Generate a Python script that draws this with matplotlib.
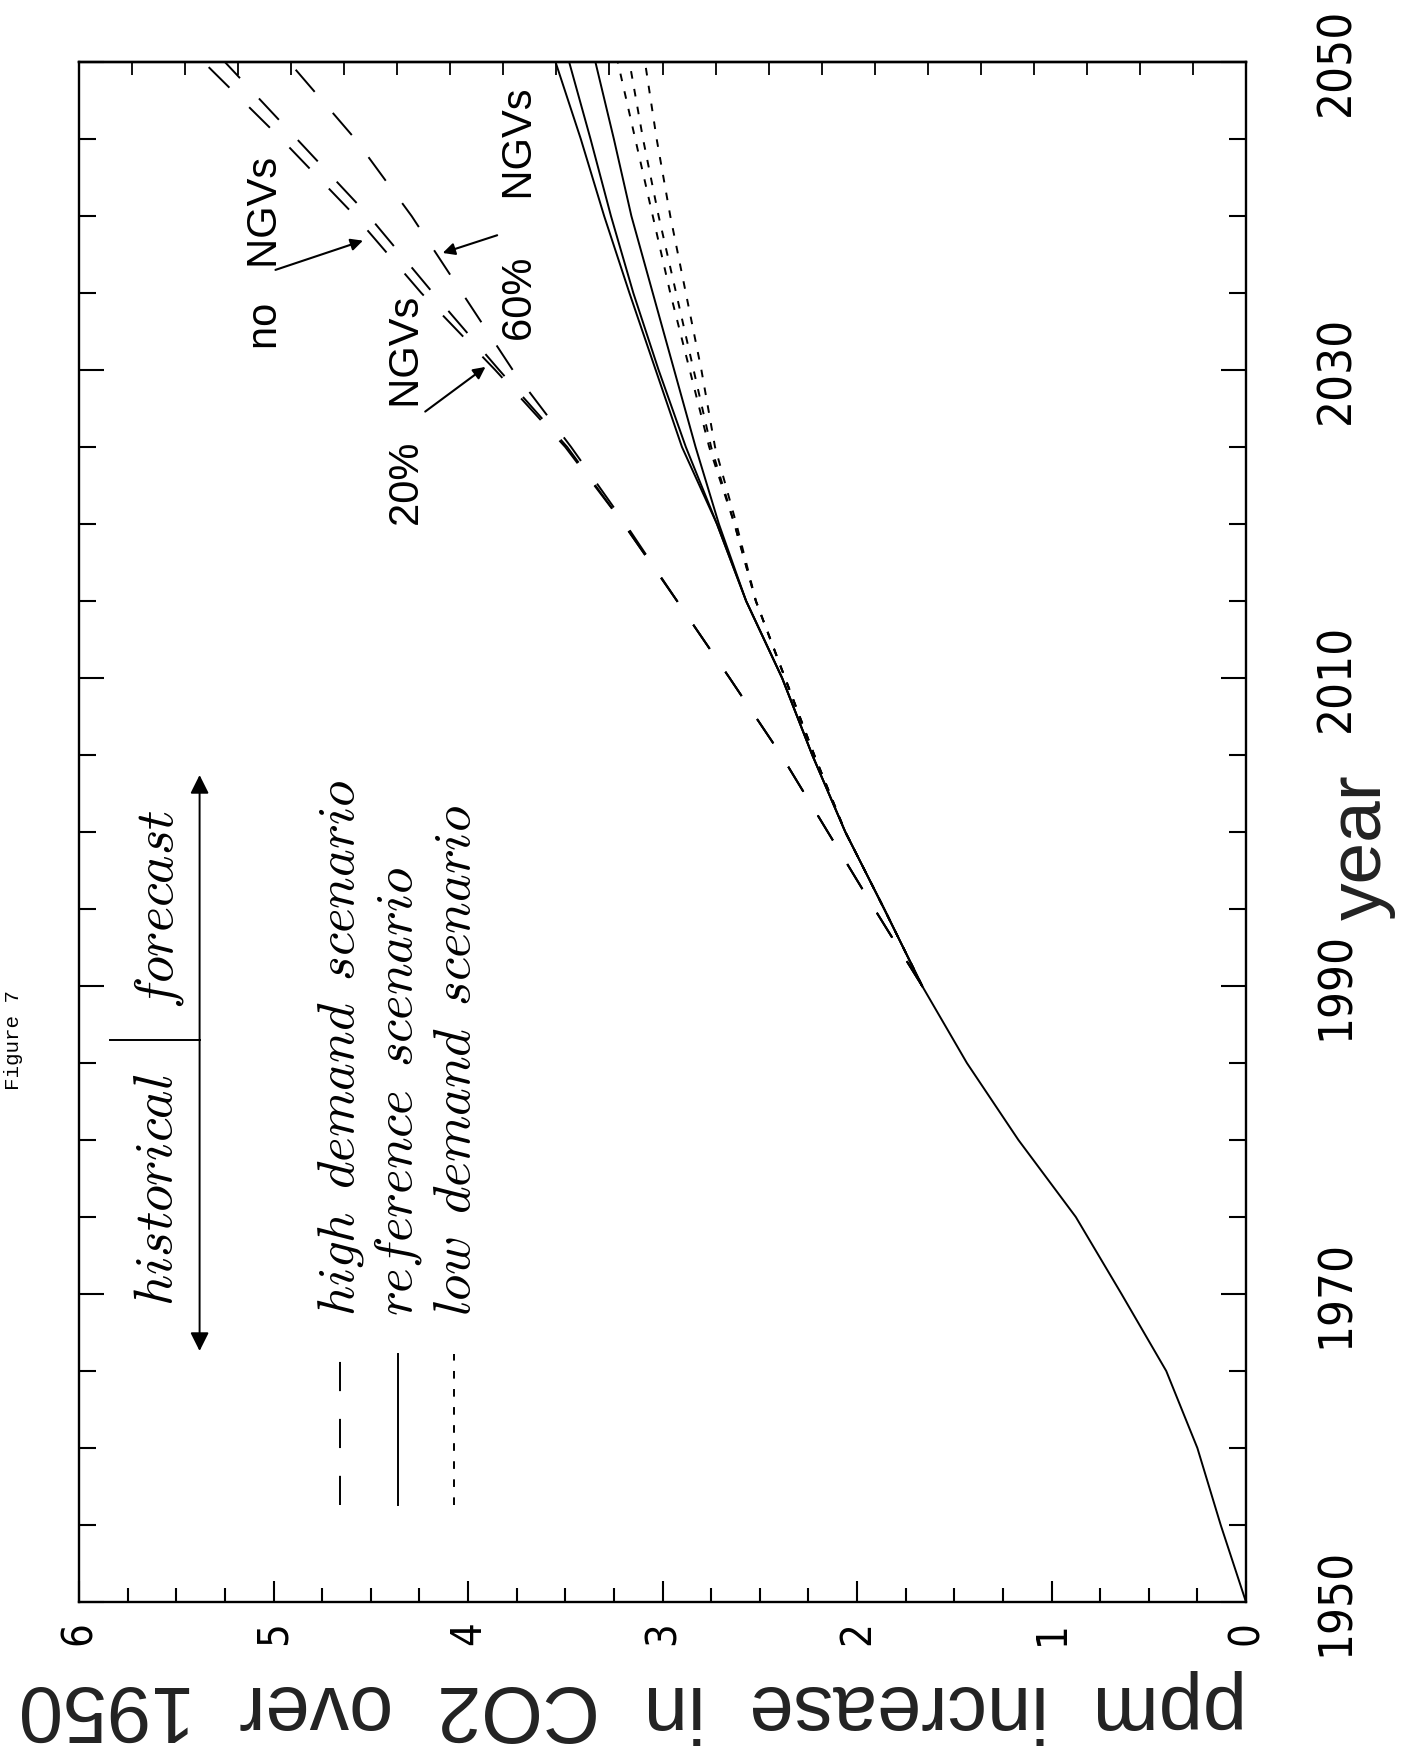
import numpy as np
import matplotlib
matplotlib.use('Agg')
import matplotlib.pyplot as plt
from matplotlib import font_manager as fm
from matplotlib.font_manager import FontProperties
from matplotlib.ticker import MultipleLocator, FixedLocator, FuncFormatter, NullFormatter

W, H, DPI = 1401, 1747, 100
plt.rcParams['lines.scale_dashes'] = False
plt.rcParams['mathtext.fontset'] = 'cm'

names = {f.name for f in fm.fontManager.ttflist}
SANS = 'Liberation Sans' if 'Liberation Sans' in names else 'DejaVu Sans'
MONO = 'Liberation Mono' if 'Liberation Mono' in names else 'DejaVu Sans Mono'


def find_condensed():
    best = None
    for f in fm.fontManager.ttflist:
        nm = f.name
        st = str(f.stretch)
        cond = ('Narrow' in nm or 'Condensed' in nm or
                st in ('condensed', 'semi-condensed', 'extra-condensed'))
        if not cond or f.style != 'normal':
            continue
        try:
            wt = int(f.weight)
        except Exception:
            wt = 400 if f.weight in ('normal', 'regular', 'book') else 700
        if wt != 400:
            continue
        if 'Mono' in nm or 'CJK' in nm or 'Serif' in nm:
            continue
        score = 0 if 'Sans' in nm else 1
        if best is None or score < best[0]:
            best = (score, f.fname)
    return best[1] if best else None


COND = find_condensed()


def digit_font(size_cond, size_fallback):
    if COND:
        return FontProperties(fname=COND, size=size_cond)
    return FontProperties(family=SANS, size=size_fallback)


# ---------------- data ----------------
hist_years = [1950, 1955, 1960, 1965, 1970, 1975, 1980, 1985, 1990]
hist_ppm = [0.00, 0.13, 0.25, 0.41, 0.64, 0.875, 1.17, 1.435, 1.665]

fc_years = [1990, 1995, 2000, 2005, 2010, 2015, 2020, 2025, 2030, 2035, 2040, 2045, 2050]
high_no = [1.665, 1.91, 2.15, 2.39, 2.655, 2.925, 3.20, 3.50, 3.86, 4.24, 4.58, 4.96, 5.36]
high_20 = [1.665, 1.91, 2.15, 2.39, 2.655, 2.925, 3.20, 3.49, 3.84, 4.18, 4.51, 4.88, 5.25]
high_60 = [1.665, 1.91, 2.15, 2.39, 2.655, 2.925, 3.19, 3.47, 3.77, 4.03, 4.29, 4.58, 4.92]
ref_no = [1.665, 1.86, 2.06, 2.23, 2.385, 2.57, 2.72, 2.90, 3.035, 3.17, 3.30, 3.42, 3.55]
ref_20 = [1.665, 1.86, 2.06, 2.23, 2.385, 2.57, 2.72, 2.88, 3.02, 3.15, 3.265, 3.37, 3.48]
ref_60 = [1.665, 1.86, 2.06, 2.23, 2.385, 2.57, 2.71, 2.83, 2.94, 3.05, 3.16, 3.25, 3.345]
low_no = [1.665, 1.86, 2.06, 2.22, 2.37, 2.52, 2.63, 2.76, 2.86, 2.96, 3.05, 3.14, 3.23]
low_20 = [1.665, 1.86, 2.06, 2.22, 2.37, 2.52, 2.63, 2.75, 2.84, 2.93, 3.02, 3.10, 3.17]
low_60 = [1.665, 1.86, 2.06, 2.22, 2.37, 2.52, 2.62, 2.73, 2.80, 2.88, 2.96, 3.03, 3.09]

ppm_ticks = [0, 1, 2, 3, 4, 5, 6]
year_ticks = [1950, 1970, 1990, 2010, 2030, 2050]

legend_labels = [r'$\mathit{high}\enspace\mathit{demand}\enspace\mathit{scenario}$',
                 r'$\mathit{reference}\enspace\mathit{scenario}$',
                 r'$\mathit{low}\enspace\mathit{demand}\enspace\mathit{scenario}$']
ngv_labels = ['no   NGVs', '20%   NGVs', '60%     NGVs']

# ---------------- styles ----------------
LW = 1.4
DASH = (0, (21, 20))
DOT = (0, (5.5, 7.5))


def px(x, y):
    return x / W, 1 - y / H


fig = plt.figure(figsize=(W / DPI, H / DPI), dpi=DPI)
fig.patch.set_facecolor('white')
L, R, T, B = 79, 1246, 62, 1602
ax = fig.add_axes([L / W, 1 - B / H, (R - L) / W, (B - T) / H])
ax.set_xlim(6, 0)
ax.set_ylim(1950, 2050)

for s in ax.spines.values():
    s.set_linewidth(1.7)

# curves (chart is rotated: x = ppm, y = year)
ax.plot(hist_ppm, hist_years, color='k', lw=LW)
for series in (high_no, high_20, high_60):
    ax.plot(series, fc_years, color='k', lw=LW, linestyle=DASH)
for series in (ref_no, ref_20, ref_60):
    ax.plot(series, fc_years, color='k', lw=LW, linestyle='-')
for series in (low_no, low_20, low_60):
    ax.plot(series, fc_years, color='k', lw=LW, linestyle=DOT)

# ticks: ppm on bottom
ax.xaxis.set_major_locator(FixedLocator(ppm_ticks))
ax.xaxis.set_minor_locator(MultipleLocator(0.25))
ax.xaxis.set_major_formatter(FuncFormatter(lambda v, p: f'{v:.0f}'))
ax.tick_params(axis='x', which='both', direction='in', bottom=True, top=False,
               width=1.5)
ax.tick_params(axis='x', which='major', length=15, pad=14, labelrotation=90)
ax.tick_params(axis='x', which='minor', length=10)
fp_ppm = digit_font(30, 25)
for t in ax.get_xticklabels():
    t.set_fontproperties(fp_ppm)

# years on right
ax.yaxis.set_major_locator(FixedLocator(year_ticks))
ax.yaxis.set_minor_locator(MultipleLocator(5))
ax.tick_params(axis='y', which='both', direction='in', left=True, right=True,
               labelleft=False, labelright=True, width=1.5)
ax.tick_params(axis='y', which='major', length=18, pad=49, labelrotation=90)
ax.tick_params(axis='y', which='minor', length=12)
fp_year = digit_font(34, 30)
for t in ax.get_yticklabels():
    t.set_fontproperties(fp_year)
    t.set_va('center')

# top edge ticks (22 even intervals)
sec = ax.secondary_xaxis('top')
sec.set_xticks(np.linspace(0, 6, 23))
sec.xaxis.set_major_formatter(NullFormatter())
sec.tick_params(direction='in', length=9, width=1.3)
sec.spines['top'].set_linewidth(1.7)

# axis labels
fig.text(*px(1381, 847), 'year', rotation=90, rotation_mode='anchor',
         ha='center', va='baseline', fontsize=54, family=SANS, color='#222222')
fig.text(*px(1247, 1686), 'ppm  increase  in  CO2  over  1950', rotation=180,
         rotation_mode='anchor', ha='left', va='baseline', fontsize=57,
         family=SANS, color='#222222')
fig.text(*px(14, 1040), 'Figure 7', rotation=90, ha='center', va='center',
         fontsize=15, family=MONO)

# legend
samp_x = [4.66, 4.36, 4.07]
samp_styles = [DASH, '-', DOT]
for xv, st in zip(samp_x, samp_styles):
    ax.plot([xv, xv], [1956.3, 1966.1], color='k', lw=LW, linestyle=st)
for xv, lab in zip([4.59, 4.29, 3.99], legend_labels):
    ax.text(xv, 1968.6, lab, rotation=90, rotation_mode='anchor', ha='left',
            va='baseline', fontsize=38)
ax.text(5.52, 1969.2, r'$\mathit{historical}$', rotation=90, rotation_mode='anchor',
        ha='left', va='baseline', fontsize=39)
ax.text(5.52, 1988.5, r'$\mathit{forecast}$', rotation=90, rotation_mode='anchor',
        ha='left', va='baseline', fontsize=39)
ax.plot([5.84, 5.38], [1986.5, 1986.5], color='k', lw=1.4)
ax.annotate('', xy=(5.38, 2003.7), xytext=(5.38, 1966.3),
            arrowprops=dict(arrowstyle='<|-|>', color='k', lw=1.4,
                            mutation_scale=28, shrinkA=0, shrinkB=0))

# NGV annotations
txt_pos = [(5.04, 2037.6), (4.31, 2027.3), (3.73, 2040.1)]
arr_tail = [(4.99, 2036.5), (4.22, 2027.3), (3.85, 2038.75)]
arr_tip = [(4.54, 2038.4), (3.91, 2030.2), (4.13, 2037.6)]
for lab, tp, ta, tip in zip(ngv_labels, txt_pos, arr_tail, arr_tip):
    ax.text(tp[0], tp[1], lab, rotation=90, ha='center', va='center',
            fontsize=30, family=SANS)
    ax.annotate('', xy=tip, xytext=ta,
                arrowprops=dict(arrowstyle='-|>', color='k', lw=1.5,
                                mutation_scale=18, shrinkA=0, shrinkB=0))

fig.savefig('out.png', dpi=DPI, facecolor='white')
